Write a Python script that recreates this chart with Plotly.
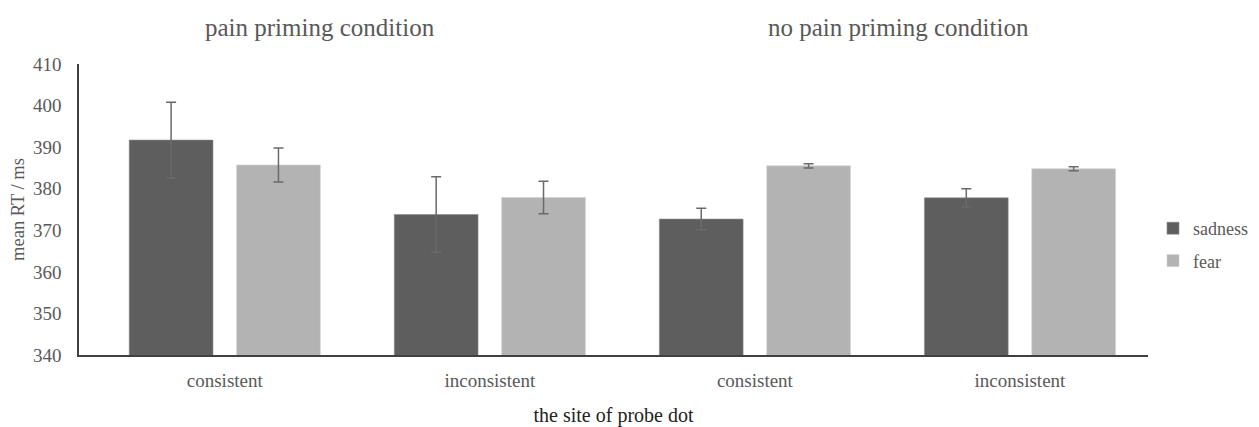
import plotly.graph_objects as go

categories = ["consistent", "inconsistent", "consistent", "inconsistent"]
conditions = ["pain priming condition", "no pain priming condition"]
series_names = ["sadness", "fear"]
sadness_vals = [391.7, 373.8, 372.7, 377.8]
sadness_err = [9.1, 9.1, 2.6, 2.2]
fear_vals = [385.7, 377.9, 385.5, 384.8]
fear_err = [4.1, 3.9, 0.5, 0.5]
y_ticks = [340, 350, 360, 370, 380, 390, 400, 410]

x_pos = list(range(len(categories)))
font_family = "Liberation Serif, Times New Roman, serif"
txt_gray = "#595959"

# page body has an 8px margin: the figure starts at (8, 8) in the window
OFF = 8
W, H = 1259 - OFF, 427 - OFF
L, T = 79 - OFF, 64 - OFF
R = W - (1148 - OFF)
B = H - (355 - OFF)
pw, ph = W - L - R, H - T - B

def px_x(page_x):
    return (page_x - OFF - L) / pw

def px_y(page_y):
    return (H - B - (page_y - OFF)) / ph

fig = go.Figure()
fig.add_trace(go.Bar(
    name=series_names[0], x=x_pos, y=sadness_vals, legendgroup="s",
    marker=dict(color="#5e5e5e", line=dict(color="#8a8a8a", width=0.6)),
    error_y=dict(type="data", array=sadness_err, color="#6a6a6a", thickness=1.5, width=5),
))
fig.add_trace(go.Bar(
    name=series_names[1], x=x_pos, y=fear_vals, legendgroup="f",
    marker=dict(color="#b3b3b3", line=dict(color="#d0d0d0", width=0.6)),
    error_y=dict(type="data", array=fear_err, color="#6a6a6a", thickness=1.5, width=5),
))

fig.update_layout(
    width=W, height=H,
    margin=dict(l=L, r=R, t=T, b=B, autoexpand=False),
    paper_bgcolor="white", plot_bgcolor="white",
    barmode="group", bargap=0.19, bargroupgap=0.22,
    font=dict(family=font_family, color=txt_gray, size=19),
    showlegend=True,
    legend=dict(x=px_x(1153), y=px_y(244.5), xanchor="left", yanchor="middle",
                font=dict(size=18, color=txt_gray), itemwidth=30,
                tracegroupgap=6, bgcolor="rgba(0,0,0,0)"),
    xaxis=dict(
        tickmode="array", tickvals=x_pos, ticktext=categories,
        range=[-0.55, len(categories) - 0.517],
        showline=True, linecolor="#404040", linewidth=1.5,
        ticks="outside", ticklen=7, tickcolor="white",
        tickfont=dict(size=19, color=txt_gray),
        showgrid=False, zeroline=False, automargin=False,
        title=dict(text="the site of probe dot", font=dict(size=20, color="#222222"), standoff=19),
    ),
    yaxis=dict(
        range=[340, 410], tickmode="array", tickvals=y_ticks,
        showline=True, linecolor="#404040", linewidth=1.5,
        ticks="outside", ticklen=12, tickcolor="white",
        tickfont=dict(size=19, color=txt_gray),
        showgrid=False, zeroline=False, automargin=False,
        title=dict(text="mean RT / ms", font=dict(size=18.5, color=txt_gray), standoff=7),
    ),
)

for name, cx in zip(conditions, [320, 898]):
    fig.add_annotation(text=name, xref="paper", yref="paper",
                       x=px_x(cx), y=px_y(27),
                       xanchor="center", yanchor="middle", showarrow=False,
                       font=dict(size=25, color=txt_gray, family=font_family))

fig.write_html("out.html")
